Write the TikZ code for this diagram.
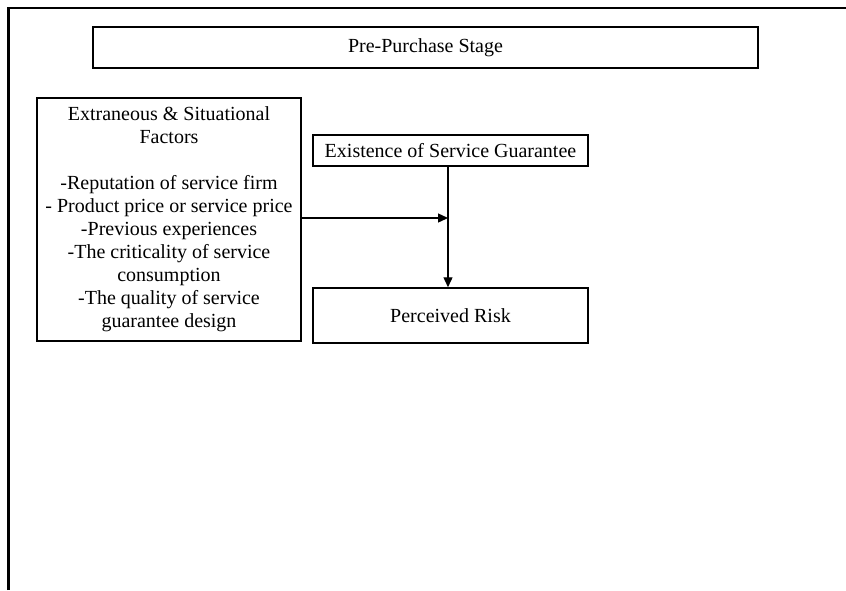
\documentclass[tikz,border=0pt]{standalone}
\usepackage{fontspec}
\setmainfont{Liberation Serif}
\usetikzlibrary{arrows.meta}
\begin{document}
\begin{tikzpicture}[x=1pt,y=-1pt,
  box/.style={draw,line width=1.5pt,inner sep=0pt,align=center,font=\fontsize{20}{23}\selectfont},
  arr/.style={line width=1.4pt,-{Triangle[length=10pt,width=9pt]}}]
\useasboundingbox (0,0) rectangle (846,590);
\coordinate (fa) at (8.5,590);
\coordinate (fb) at (8.5,8);
\coordinate (fc) at (846,8);
\draw[line width=2.2pt] (fa) -- (fb) -- (fc);
\node[box,minimum width=665pt,minimum height=41pt] (stage) at (425.5,47.5) {Pre-Purchase Stage};
\node[box,minimum width=264pt,minimum height=243pt] (factors) at (169,219.5) {Extraneous \& Situational\\Factors\\[23pt]-Reputation of service firm\\- Product price or service price\\-Previous experiences\\-The criticality of service\\consumption\\-The quality of service\\guarantee design};
\node[box,minimum width=275pt,minimum height=31pt] (exist) at (450.5,150.5) {Existence of Service Guarantee};
\node[box,minimum width=275pt,minimum height=55pt] (risk) at (450.5,315.5) {Perceived Risk};
\coordinate (j) at (448,218);
\draw[arr] (exist.south -| j) -- (risk.north -| j);
\draw[arr] (factors.east |- j) -- (j);
\end{tikzpicture}
\end{document}
